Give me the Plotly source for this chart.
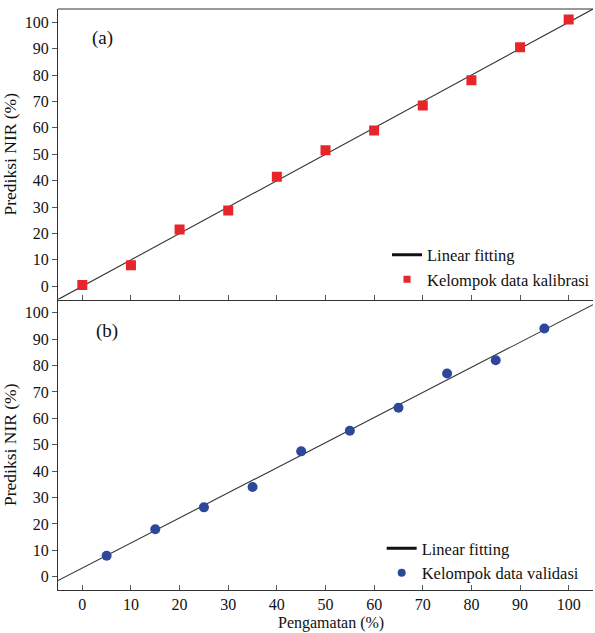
import plotly.graph_objects as go
from plotly.subplots import make_subplots
import numpy as np

# Calibration data (panel a)
cal_x = [0, 10, 20, 30, 40, 50, 60, 70, 80, 90, 100]
cal_y = [0.5, 8.0, 21.5, 28.7, 41.5, 51.5, 59.0, 68.5, 78.0, 90.5, 101.0]
cal_fit_slope = 1.0
cal_fit_intercept = 0.0

# Validation data (panel b)
val_x = [5, 15, 25, 35, 45, 55, 65, 75, 85, 95]
val_y = [8.0, 18.0, 26.3, 34.0, 47.5, 55.3, 64.0, 77.0, 82.0, 94.0]
val_fit_slope = 0.95
val_fit_intercept = 3.3

x_range = [-5, 105]
y_range = [-5, 105]
ticks = [0, 10, 20, 30, 40, 50, 60, 70, 80, 90, 100]

FONT = "Liberation Serif"
TXT = "#111111"
LINE_C = "#333333"
fit_x = np.array(x_range, dtype=float)

fig = make_subplots(rows=2, cols=1, shared_xaxes=False, vertical_spacing=0)

# panel (a)
fig.add_trace(go.Scatter(x=fit_x, y=cal_fit_slope * fit_x + cal_fit_intercept, mode="lines",
                         line=dict(color=LINE_C, width=1.1), showlegend=False), row=1, col=1)
fig.add_trace(go.Scatter(x=cal_x, y=cal_y, mode="markers",
                         marker=dict(symbol="square", size=10, color="#e8262a"),
                         showlegend=False), row=1, col=1)
fig.add_trace(go.Scatter(x=[None], y=[None], mode="lines", line=dict(color="#111111", width=3),
                         name="Linear fitting", legend="legend"), row=1, col=1)
fig.add_trace(go.Scatter(x=[None], y=[None], mode="markers",
                         marker=dict(symbol="square", size=7, color="#e8262a"),
                         name="Kelompok data kalibrasi", legend="legend"), row=1, col=1)

# panel (b)
fig.add_trace(go.Scatter(x=fit_x, y=val_fit_slope * fit_x + val_fit_intercept, mode="lines",
                         line=dict(color=LINE_C, width=1.1), showlegend=False), row=2, col=1)
fig.add_trace(go.Scatter(x=val_x, y=val_y, mode="markers",
                         marker=dict(symbol="circle", size=10, color="#2d479b"),
                         showlegend=False), row=2, col=1)
fig.add_trace(go.Scatter(x=[None], y=[None], mode="lines", line=dict(color="#111111", width=3),
                         name="Linear fitting", legend="legend2"), row=2, col=1)
fig.add_trace(go.Scatter(x=[None], y=[None], mode="markers",
                         marker=dict(symbol="circle", size=8, color="#2d479b"),
                         name="Kelompok data validasi", legend="legend2"), row=2, col=1)

axis_common = dict(showgrid=False, zeroline=False, showline=True, linecolor=LINE_C,
                   linewidth=1, tickfont=dict(family=FONT, size=16, color=TXT))

fig.update_xaxes(range=x_range, tickvals=ticks, ticks="inside", ticklen=5,
                 tickcolor="#555555", **axis_common)
fig.update_xaxes(showticklabels=False, row=1, col=1)
fig.update_yaxes(range=y_range, tickvals=ticks, ticks="outside", ticklen=5,
                 tickcolor="#555555",
                 title=dict(text="Prediksi NIR (%)", font=dict(family=FONT, size=17.5, color=TXT),
                            standoff=3),
                 **axis_common)

# x-axis title as annotation under the lower panel
fig.add_annotation(text="Pengamatan (%)", xref="paper", yref="paper", x=0.51, y=0,
                   yanchor="middle", yshift=-33, showarrow=False,
                   font=dict(family=FONT, size=16, color=TXT))

# top border of upper panel
fig.add_shape(type="line", xref="paper", yref="paper", x0=0, x1=1, y0=1, y1=1,
              line=dict(color=LINE_C, width=1))

fig.add_annotation(text="(a)", xref="x", yref="y", x=1.5, y=94, showarrow=False,
                   xanchor="left", font=dict(family=FONT, size=19, color=TXT))
fig.add_annotation(text="(b)", xref="x2", yref="y2", x=2.5, y=93, showarrow=False,
                   xanchor="left", font=dict(family=FONT, size=19, color=TXT))

legend_common = dict(bgcolor="rgba(0,0,0,0)", font=dict(family=FONT, size=16.5, color=TXT),
                     itemwidth=30, tracegroupgap=0, xanchor="left", yanchor="bottom")

fig.update_layout(
    width=595, height=633,
    margin=dict(l=58, r=0, t=9, b=43),
    plot_bgcolor="white", paper_bgcolor="white",
    legend=dict(x=0.615, y=0.505, **legend_common),
    legend2=dict(x=0.605, y=0.0, **legend_common),
)

fig.write_html("out.html")
